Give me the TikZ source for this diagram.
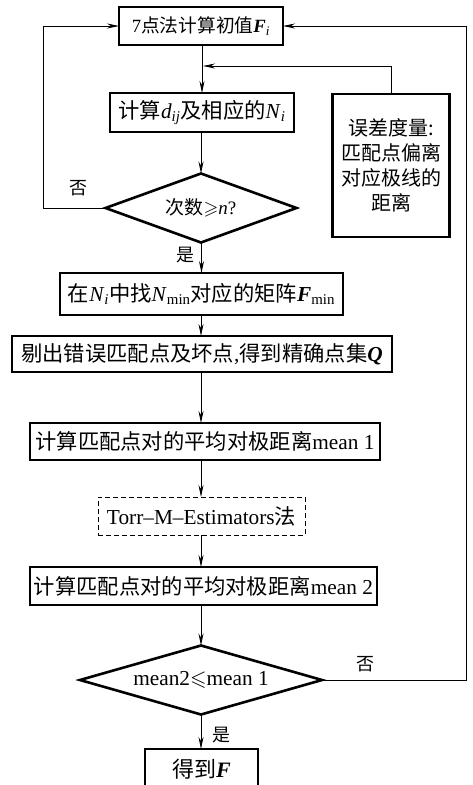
\documentclass[tikz,border=0pt]{standalone}
\usepackage{amssymb}
\usepackage{fontspec}
\setmainfont{Liberation Serif}
\newfontfamily\cjk{Noto Sans CJK SC}
\usetikzlibrary{shapes.geometric,arrows.meta}
\newcommand{\bfi}[1]{\textbf{\textit{#1}}}
\newcommand{\lowsub}[1]{\textsubscript{#1}}
\begin{document}
\begin{tikzpicture}[x=1pt,y=-1pt,
  every node/.style={inner sep=0pt,outer sep=0pt},
  proc/.style={draw,line width=2.6pt,minimum height=38pt,align=center,font=\fontsize{21.3}{24}\selectfont},
  dproc/.style={draw,line width=0.9pt,dashed,dash pattern=on 5pt off 3pt,minimum height=38pt,font=\fontsize{21.3}{24}\selectfont},
  dec/.style={draw,diamond,line width=2.6pt,font=\fontsize{19}{22}\selectfont},
  lab/.style={font=\fontsize{18}{20}\selectfont\cjk},
  conn/.style={line width=0.9pt,-{Stealth[length=12pt,width=5pt]}},
  plain/.style={line width=0.9pt}]
\useasboundingbox (0,0) rectangle (472,785);
\clip (0,0) rectangle (472,785);
\fill[white] (0,0) rectangle (472,785);

\node[proc,minimum width=164pt,font=\fontsize{18.7}{22}\selectfont] (b1) at (201,26) {7{\cjk 点法计算初值}\bfi{F}\lowsub{\textit{i}}};
\node[proc,minimum width=184pt,minimum height=39pt] (b2) at (202,112.5) {{\cjk 计算}\textit{d}\lowsub{\textit{ij}}{\cjk 及相应的}\textit{N}\lowsub{\textit{i}}};
\node[proc,minimum width=117pt,minimum height=143pt,font=\fontsize{20}{25}\selectfont\cjk] (err) at (391,165.5) {误差度量:\\匹配点偏离\\对应极线的\\距离};
\node[dec,aspect=2.77,minimum width=191pt,minimum height=69pt] (d1) at (201,208) {{\cjk 次数}$\geqslant$\textit{n}?};
\node[proc,minimum width=283pt,minimum height=42pt] (b3) at (201.5,294) {{\cjk 在}\textit{N}\lowsub{\textit{i}}{\cjk 中找}\textit{N}\lowsub{min}{\cjk 对应的矩阵}\bfi{F}\lowsub{min}};
\node[proc,minimum width=380pt,minimum height=36pt] (b4) at (202,354) {{\cjk 剔出错误匹配点及坏点},{\cjk 得到精确点集}\bfi{Q}};
\node[proc,minimum width=350pt,minimum height=37pt] (b5) at (205,441.5) {{\cjk 计算匹配点对的平均对极距离}mean 1};
\node[dproc,minimum width=207pt] (b7) at (201.5,516) {Torr--M--Estimators{\cjk 法}};
\node[proc,minimum width=347pt] (b6) at (203.5,586) {{\cjk 计算匹配点对的平均对极距离}mean 2};
\node[dec,aspect=3.5,minimum width=242pt,minimum height=69pt,font=\fontsize{21.3}{24}\selectfont] (d2) at (201,680) {mean2$\leqslant$mean 1};
\node[proc,minimum width=113pt,minimum height=40pt,anchor=north,font=\fontsize{22}{24}\selectfont] (bF) at (201.5,749) {\raisebox{-1pt}{{\cjk 得到}\bfi{F}}};

\coordinate (m1) at (201,66);
\coordinate (e1) at (391,66);
\coordinate (l1) at (43,208);
\coordinate (l2) at (43,26);
\coordinate (r1) at (466,680);
\coordinate (r2) at (466,26);

\draw[conn] (b1.south) -- (b2.south |- b1.south) -- (b2.north);
\draw[conn] (err.north) -- (e1) -- ([xshift=2pt]m1);
\draw[conn] (b2.south -| d1.north) -- (d1.north);
\draw[conn] (d1.south) -- (b3.south |- d1.south) -- (b3.north);
\draw[conn] (b3.south -| d1.south) -- (d1.south |- b4.north);
\draw[conn] (b4.south -| d1.south) -- (d1.south |- b5.north);
\draw[conn] (b5.south -| d1.south) -- (d1.south |- b7.north);
\draw[conn] (b7.south -| d1.south) -- (d1.south |- b6.north);
\draw[conn] (b6.south -| d2.north) -- (d2.north);
\draw[conn] (d2.south) -- (d2.south |- bF.north);
\draw[conn] (d1.west) -- (l1) -- (l2) -- (b1.west);
\draw[conn] (d2.east) -- (r1) -- (r2) -- (b1.east);

\node[lab] (n1) at (78,188) {否};
\node[lab] (y1) at (185,255) {是};
\node[lab] (n2) at (365,664) {否};
\node[lab] (y2) at (221,735) {是};
\end{tikzpicture}
\end{document}
